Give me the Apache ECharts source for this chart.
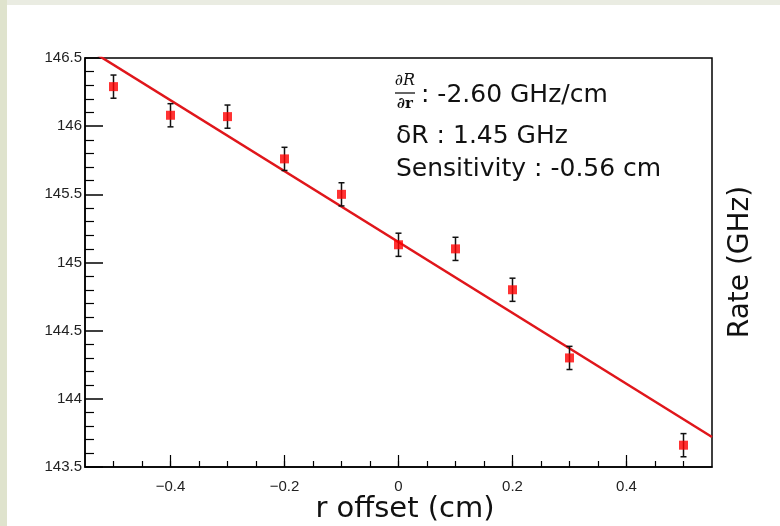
<!DOCTYPE html>
<html>
<head>
<meta charset="utf-8">
<script src="https://cdn.jsdelivr.net/npm/echarts@6/dist/echarts.min.js"></script>
<style>
html,body{margin:0;padding:0;background:#fff;}
#chart{width:780px;height:526px;}
</style>
</head>
<body>
<div id="chart"></div>
<script>
// Data
var xOffsets = [-0.5, -0.4, -0.3, -0.2, -0.1, 0.0, 0.1, 0.2, 0.3, 0.5];
var rates    = [146.29, 146.08, 146.07, 145.76, 145.50, 145.13, 145.10, 144.80, 144.30, 143.66];
var rateErr  = [0.085, 0.085, 0.085, 0.085, 0.085, 0.085, 0.085, 0.085, 0.085, 0.085];
var fitX = [-0.55, 0.55];
var fitY = [146.58, 143.72];
var xMajorTicks = [-0.4, -0.2, 0, 0.2, 0.4];
var xMinorTicks = [-0.5, -0.45, -0.4, -0.35, -0.3, -0.25, -0.2, -0.15, -0.1, -0.05, 0, 0.05, 0.1, 0.15, 0.2, 0.25, 0.3, 0.35, 0.4, 0.45, 0.5];
var annotLines = [': -2.60 GHz/cm', 'δR : 1.45 GHz', 'Sensitivity : -0.56 cm'];
var xTitle = 'r offset (cm)';
var yTitle = 'Rate (GHz)';

var chart = echarts.init(document.getElementById('chart'), null, {renderer: 'canvas'});

var pts = xOffsets.map(function (x, i) { return [x, rates[i]]; });
var errData = xOffsets.map(function (x, i) { return [x, rates[i] - rateErr[i], rates[i] + rateErr[i]]; });
var fitData = fitX.map(function (x, i) { return [x, fitY[i]]; });

var labelFont = {fontFamily: 'Liberation Sans, Arial, sans-serif', fontSize: 15, color: '#222'};
function fmtX(v) {
  var s = (Math.round(v * 10) / 10).toString();
  return s.replace('-', '\u2212');
}
var titleFont = '"DejaVu Sans", sans-serif';

var option = {
  animation: false,
  backgroundColor: '#ffffff',
  grid: {left: 85, top: 58, right: 68, bottom: 59, show: true, borderColor: '#000', borderWidth: 1.5, backgroundColor: 'transparent'},
  xAxis: [{
    type: 'value', min: -0.55, max: 0.55, position: 'bottom',
    axisLine: {show: true, onZero: false, lineStyle: {color: '#000', width: 1.5}},
    axisTick: {show: true, inside: true, length: 12, customValues: xMajorTicks, lineStyle: {color: '#000', width: 1.2}},
    axisLabel: Object.assign({show: true, margin: 12, customValues: xMajorTicks, formatter: fmtX}, labelFont),
    splitLine: {show: false}
  }, {
    type: 'value', min: -0.55, max: 0.55, position: 'bottom', gridIndex: 0,
    axisLine: {show: false, onZero: false},
    axisTick: {show: true, inside: true, length: 6, customValues: xMinorTicks, lineStyle: {color: '#000', width: 1.2}},
    axisLabel: {show: false},
    splitLine: {show: false}
  }],
  yAxis: [{
    type: 'value', min: 143.5, max: 146.5, interval: 0.5,
    axisLine: {show: true, onZero: false, lineStyle: {color: '#000', width: 1.5}},
    axisTick: {show: true, inside: true, length: 18, lineStyle: {color: '#000', width: 1.5}},
    minorTick: {show: true, splitNumber: 5, length: 9, lineStyle: {color: '#000', width: 1.2}},
    axisLabel: Object.assign({margin: 3, formatter: function (v) { return String(Math.round(v * 10) / 10); }}, labelFont),
    splitLine: {show: false}
  }],
  series: [{
    type: 'line', data: fitData, xAxisIndex: 0, yAxisIndex: 0, clip: true,
    symbol: 'none', lineStyle: {color: '#e0161b', width: 2.5}, z: 3
  }, {
    type: 'custom', data: errData, xAxisIndex: 0, yAxisIndex: 0, z: 4,
    renderItem: function (params, api) {
      var x = api.value(0);
      var lo = api.coord([x, api.value(1)]);
      var hi = api.coord([x, api.value(2)]);
      var c = 3;
      var st = {stroke: '#111', lineWidth: 1.5};
      return {type: 'group', children: [
        {type: 'line', shape: {x1: lo[0], y1: lo[1], x2: hi[0], y2: hi[1]}, style: st},
        {type: 'line', shape: {x1: lo[0] - c, y1: lo[1], x2: lo[0] + c, y2: lo[1]}, style: st},
        {type: 'line', shape: {x1: hi[0] - c, y1: hi[1], x2: hi[0] + c, y2: hi[1]}, style: st}
      ]};
    }
  }, {
    type: 'scatter', data: pts, xAxisIndex: 0, yAxisIndex: 0, z: 5,
    symbol: 'rect', symbolSize: 9, itemStyle: {color: '#ff0000'}
  }],
  graphic: [
    {type: 'rect', shape: {x: 0, y: 0, width: 780, height: 5}, style: {fill: '#eaece2'}, z: 0},
    {type: 'rect', shape: {x: 0, y: 0, width: 7, height: 526}, style: {fill: '#dfe3cd'}, z: 0},
    {type: 'text', x: 405, y: 81, style: {text: '∂R', font: 'italic 16px "DejaVu Serif", serif', fill: '#111', align: 'center', verticalAlign: 'middle'}},
    {type: 'line', shape: {x1: 395, y1: 93, x2: 415, y2: 93}, style: {stroke: '#111', lineWidth: 1.3}},
    {type: 'text', x: 405, y: 104, style: {text: '∂r', font: 'bold 15px "DejaVu Serif", serif', fill: '#111', align: 'center', verticalAlign: 'middle'}},
    {type: 'text', x: 421, y: 95, style: {text: annotLines[0], font: '25px ' + titleFont, fill: '#111', align: 'left', verticalAlign: 'middle'}},
    {type: 'text', x: 396, y: 136, style: {text: annotLines[1], font: '25px ' + titleFont, fill: '#111', align: 'left', verticalAlign: 'middle'}},
    {type: 'text', x: 396, y: 169, style: {text: annotLines[2], font: '25px ' + titleFont, fill: '#111', align: 'left', verticalAlign: 'middle'}},
    {type: 'text', x: 405, y: 509, style: {text: xTitle, font: '29px ' + titleFont, fill: '#111', align: 'center', verticalAlign: 'middle'}},
    {type: 'text', x: 741, y: 262, rotation: Math.PI / 2, style: {text: yTitle, font: '28px ' + titleFont, fill: '#111', align: 'center', verticalAlign: 'middle'}}
  ]
};
chart.setOption(option);
</script>
</body>
</html>
